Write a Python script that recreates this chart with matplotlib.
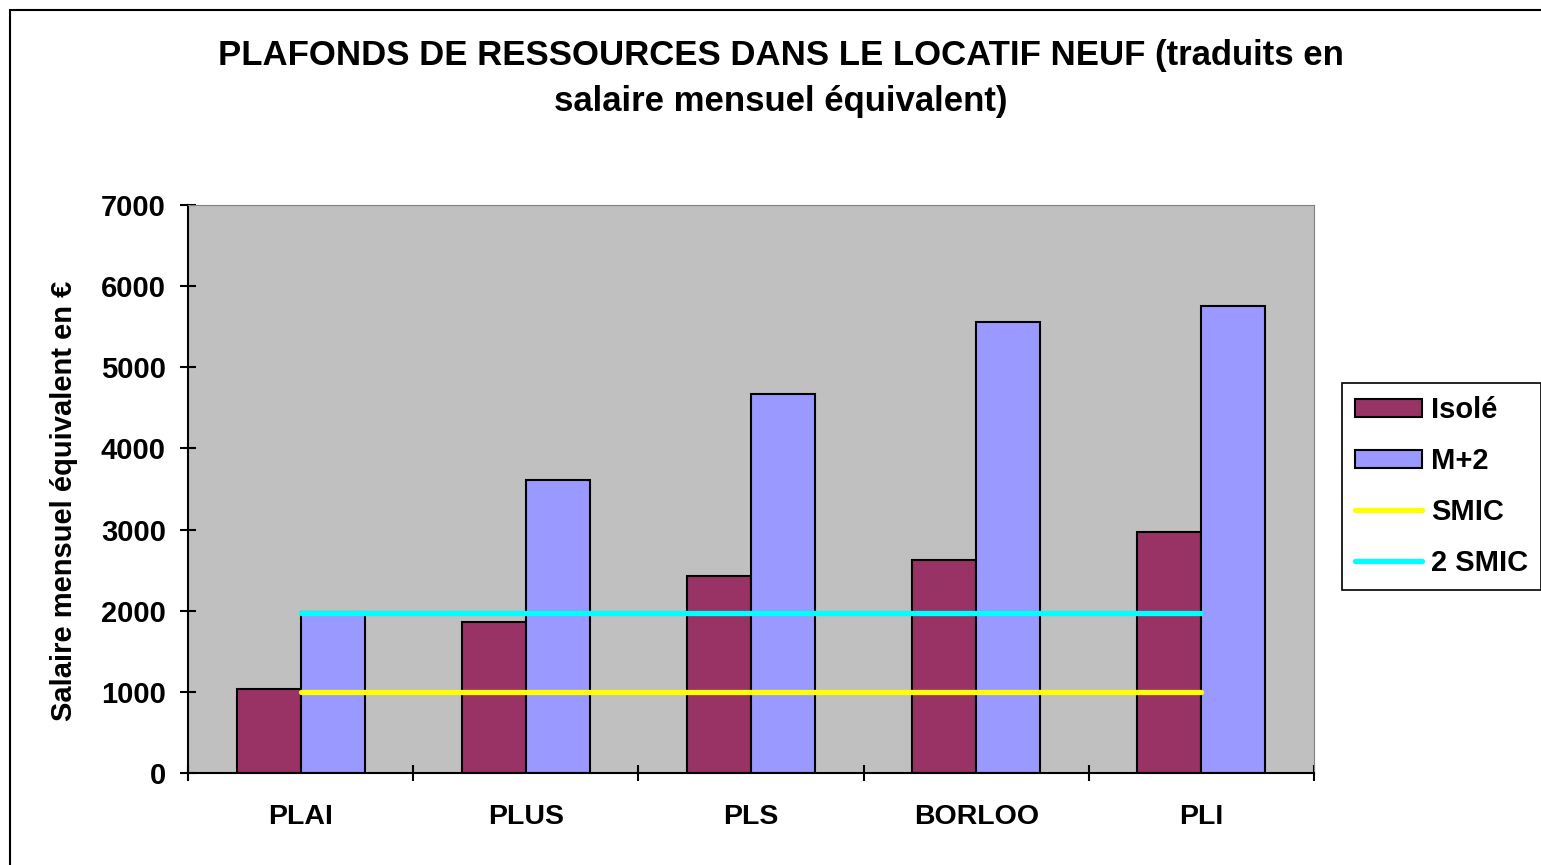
import numpy as np
import matplotlib.pyplot as plt
from matplotlib.patches import Rectangle

plt.rcParams["font.family"] = ["Liberation Sans", "DejaVu Sans"]
plt.rcParams["font.weight"] = "bold"

categories = ["PLAI", "PLUS", "PLS", "BORLOO", "PLI"]
isole = [1035, 1865, 2430, 2630, 2975]
m_plus_2 = [1990, 3610, 4670, 5560, 5760]
smic = [1000, 1000, 1000, 1000, 1000]
deux_smic = [1975, 1975, 1975, 1975, 1975]

fig = plt.figure(figsize=(15.41, 8.65), dpi=100)
ax = fig.add_axes([188 / 1541, 1 - 773 / 865, (1314 - 188) / 1541, (773 - 205) / 865])

# outer chart frame (cut off at right/bottom like the original)
fig.patches.append(Rectangle((10 / 1541, -0.1), 1.2, 1 - 10 / 865 + 0.1,
                             transform=fig.transFigure, fill=False,
                             edgecolor="black", linewidth=1.5))

x = np.arange(len(categories))
w = 0.284

ax.set_facecolor("#C0C0C0")
b1 = ax.bar(x - w / 2, isole, width=w, color="#993366", edgecolor="black",
            linewidth=1.5, label="Isolé", zorder=2)
b2 = ax.bar(x + w / 2, m_plus_2, width=w, color="#9999FF", edgecolor="black",
            linewidth=1.5, label="M+2", zorder=2)
l1, = ax.plot(x, smic, color="#FFFF00", linewidth=3.8, label="SMIC",
              solid_capstyle="round", zorder=3)
l2, = ax.plot(x, deux_smic, color="#00FFFF", linewidth=3.8, label="2 SMIC",
              solid_capstyle="round", zorder=3)

ax.set_xlim(-0.5, len(categories) - 0.5)
ax.set_ylim(0, 7000)
ax.set_yticks(range(0, 7001, 1000))
ax.set_xticks(np.arange(-0.5, len(categories), 1.0))
ax.set_xticklabels([])
ax.set_xticks(x, minor=True)
ax.set_xticklabels(categories, minor=True, fontsize=20.5, fontweight="bold")
ax.tick_params(axis="x", which="minor", length=0, pad=22)
ax.tick_params(axis="x", which="major", direction="inout", length=12,
               width=1.5)
ax.tick_params(axis="y", direction="inout", length=12, width=1.5,
               labelsize=21, pad=10)

for lab in ax.get_yticklabels():
    lab.set_fontweight("bold")

ax.spines["left"].set_color("black")
ax.spines["bottom"].set_color("black")
ax.spines["left"].set_linewidth(1.5)
ax.spines["bottom"].set_linewidth(1.5)
ax.spines["top"].set_color("#808080")
ax.spines["right"].set_color("#808080")

ax.set_ylabel("Salaire mensuel équivalent en €", fontsize=21,
              fontweight="bold")
ax.yaxis.set_label_coords(-0.0977, 0.479)

fig.text(781 / 1541, 1 - 55 / 865,
         "PLAFONDS DE RESSOURCES DANS LE LOCATIF NEUF (traduits en",
         ha="center", va="center", fontsize=25, fontweight="bold")
fig.text(781 / 1541, 1 - 101 / 865, "salaire mensuel équivalent)",
         ha="center", va="center", fontsize=25, fontweight="bold")

leg = ax.legend([b1, b2, l1, l2], ["Isolé", "M+2", "SMIC", "2 SMIC"],
                loc="upper left", bbox_to_anchor=(1342 / 1541, 1 - 383 / 865),
                bbox_transform=fig.transFigure, fontsize=21, frameon=True,
                fancybox=False, edgecolor="black", framealpha=1,
                handlelength=2.3, handleheight=0.6, labelspacing=0.79,
                borderpad=0.45, handletextpad=0.3, borderaxespad=0)
leg.get_frame().set_linewidth(1.2)
for t in leg.get_texts():
    t.set_fontweight("bold")

fig.savefig("out.png", dpi=100)
